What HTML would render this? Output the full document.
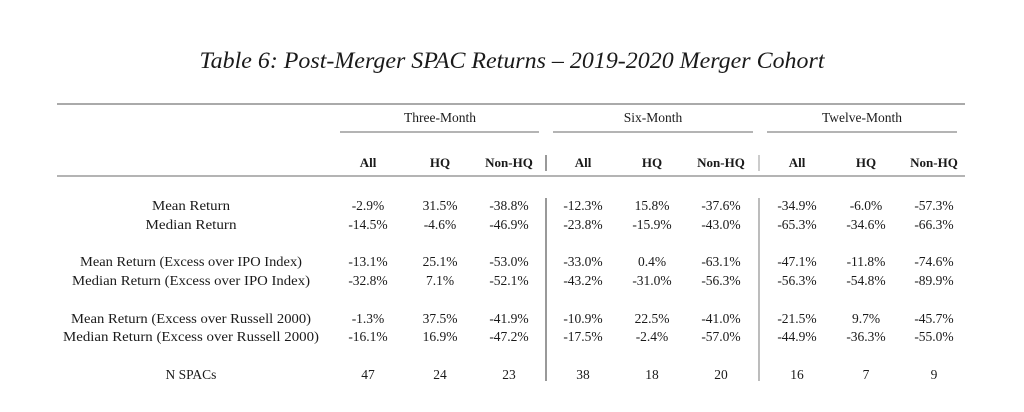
<!DOCTYPE html>
<html><head><meta charset="utf-8"><style>
html,body{margin:0;padding:0;background:#fff;}
svg{display:block;}
text{font-family:"Liberation Serif",serif;fill:#1a1a1a;}
.b{font-size:13.5px;text-anchor:middle;}
.h{font-size:13px;text-anchor:middle;font-weight:bold;}
</style></head><body>
<svg width="1024" height="412" viewBox="0 0 1024 412" xmlns="http://www.w3.org/2000/svg">
<text x="512" y="68" style="font-size:23px;font-style:italic;text-anchor:middle" textLength="625" lengthAdjust="spacingAndGlyphs">Table 6: Post-Merger SPAC Returns – 2019-2020 Merger Cohort</text>
<line x1="57" y1="104" x2="965" y2="104" stroke="#777" stroke-width="1.3"/>
<line x1="57" y1="176" x2="965" y2="176" stroke="#888" stroke-width="1.3"/>
<line x1="340" y1="132" x2="539" y2="132" stroke="#888" stroke-width="1.2"/>
<line x1="553" y1="132" x2="753" y2="132" stroke="#888" stroke-width="1.2"/>
<line x1="767" y1="132" x2="957" y2="132" stroke="#888" stroke-width="1.2"/>
<text class="b" x="440" y="122">Three-Month</text>
<text class="b" x="653" y="122">Six-Month</text>
<text class="b" x="862" y="122">Twelve-Month</text>
<line x1="546" y1="155" x2="546" y2="171" stroke="#333" stroke-width="1"/>
<line x1="759" y1="155" x2="759" y2="171" stroke="#999" stroke-width="1"/>
<line x1="546" y1="198" x2="546" y2="381" stroke="#333" stroke-width="1"/>
<line x1="759" y1="198" x2="759" y2="381" stroke="#999" stroke-width="1.3"/>
<g>
<text class="h" x="368" y="167">All</text><text class="h" x="440" y="167">HQ</text><text class="h" x="509" y="167">Non-HQ</text>
<text class="h" x="583" y="167">All</text><text class="h" x="652" y="167">HQ</text><text class="h" x="721" y="167">Non-HQ</text>
<text class="h" x="797" y="167">All</text><text class="h" x="866" y="167">HQ</text><text class="h" x="934" y="167">Non-HQ</text>
</g>
<g>
<text class="b" x="191" y="210" textLength="78" lengthAdjust="spacingAndGlyphs">Mean Return</text>
<text class="b" x="191" y="229" textLength="91" lengthAdjust="spacingAndGlyphs">Median Return</text>
<text class="b" x="191" y="266" textLength="222" lengthAdjust="spacingAndGlyphs">Mean Return (Excess over IPO Index)</text>
<text class="b" x="191" y="285" textLength="238" lengthAdjust="spacingAndGlyphs">Median Return (Excess over IPO Index)</text>
<text class="b" x="191" y="323" textLength="240" lengthAdjust="spacingAndGlyphs">Mean Return (Excess over Russell 2000)</text>
<text class="b" x="191" y="341" textLength="256" lengthAdjust="spacingAndGlyphs">Median Return (Excess over Russell 2000)</text>
<text class="b" x="191" y="379">N SPACs</text>
</g>
<g>
<text class="b" x="368" y="210">-2.9%</text><text class="b" x="440" y="210">31.5%</text><text class="b" x="509" y="210">-38.8%</text>
<text class="b" x="583" y="210">-12.3%</text><text class="b" x="652" y="210">15.8%</text><text class="b" x="721" y="210">-37.6%</text>
<text class="b" x="797" y="210">-34.9%</text><text class="b" x="866" y="210">-6.0%</text><text class="b" x="934" y="210">-57.3%</text>

<text class="b" x="368" y="229">-14.5%</text><text class="b" x="440" y="229">-4.6%</text><text class="b" x="509" y="229">-46.9%</text>
<text class="b" x="583" y="229">-23.8%</text><text class="b" x="652" y="229">-15.9%</text><text class="b" x="721" y="229">-43.0%</text>
<text class="b" x="797" y="229">-65.3%</text><text class="b" x="866" y="229">-34.6%</text><text class="b" x="934" y="229">-66.3%</text>

<text class="b" x="368" y="266">-13.1%</text><text class="b" x="440" y="266">25.1%</text><text class="b" x="509" y="266">-53.0%</text>
<text class="b" x="583" y="266">-33.0%</text><text class="b" x="652" y="266">0.4%</text><text class="b" x="721" y="266">-63.1%</text>
<text class="b" x="797" y="266">-47.1%</text><text class="b" x="866" y="266">-11.8%</text><text class="b" x="934" y="266">-74.6%</text>

<text class="b" x="368" y="285">-32.8%</text><text class="b" x="440" y="285">7.1%</text><text class="b" x="509" y="285">-52.1%</text>
<text class="b" x="583" y="285">-43.2%</text><text class="b" x="652" y="285">-31.0%</text><text class="b" x="721" y="285">-56.3%</text>
<text class="b" x="797" y="285">-56.3%</text><text class="b" x="866" y="285">-54.8%</text><text class="b" x="934" y="285">-89.9%</text>

<text class="b" x="368" y="323">-1.3%</text><text class="b" x="440" y="323">37.5%</text><text class="b" x="509" y="323">-41.9%</text>
<text class="b" x="583" y="323">-10.9%</text><text class="b" x="652" y="323">22.5%</text><text class="b" x="721" y="323">-41.0%</text>
<text class="b" x="797" y="323">-21.5%</text><text class="b" x="866" y="323">9.7%</text><text class="b" x="934" y="323">-45.7%</text>

<text class="b" x="368" y="341">-16.1%</text><text class="b" x="440" y="341">16.9%</text><text class="b" x="509" y="341">-47.2%</text>
<text class="b" x="583" y="341">-17.5%</text><text class="b" x="652" y="341">-2.4%</text><text class="b" x="721" y="341">-57.0%</text>
<text class="b" x="797" y="341">-44.9%</text><text class="b" x="866" y="341">-36.3%</text><text class="b" x="934" y="341">-55.0%</text>

<text class="b" x="368" y="379">47</text><text class="b" x="440" y="379">24</text><text class="b" x="509" y="379">23</text>
<text class="b" x="583" y="379">38</text><text class="b" x="652" y="379">18</text><text class="b" x="721" y="379">20</text>
<text class="b" x="797" y="379">16</text><text class="b" x="866" y="379">7</text><text class="b" x="934" y="379">9</text>
</g>
</svg>
</body></html>
